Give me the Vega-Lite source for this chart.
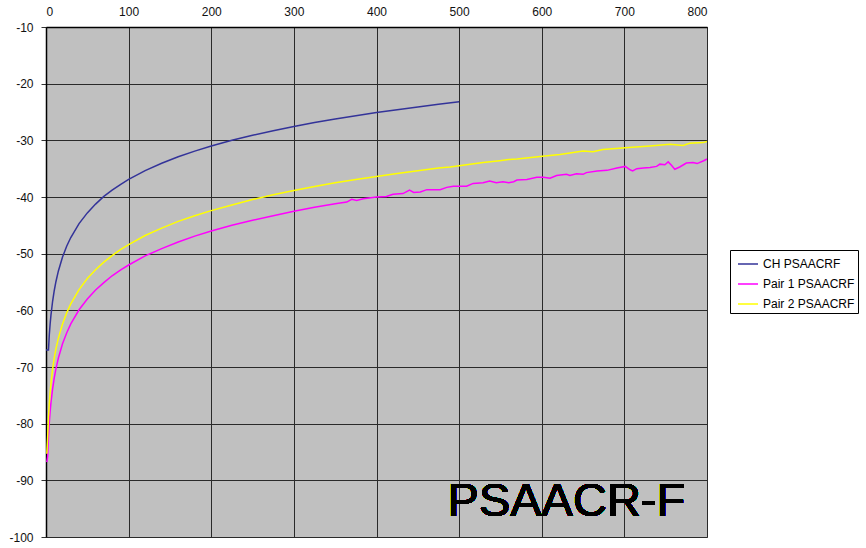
{
  "$schema": "https://vega.github.io/schema/vega-lite/v6.json",
  "autosize": {"type": "none"},
  "width": 661,
  "height": 510,
  "padding": {"left": 46, "top": 27, "right": 159, "bottom": 11},
  "background": "white",
  "config": {
    "view": {"fill": "#c0c0c0", "stroke": "#8a8a8a", "strokeWidth": 1},
    "font": "Liberation Sans",
    "axis": {"labelFont": "Liberation Sans", "labelFontSize": 12, "labelColor": "#111111", "gridColor": "#2a2a2a", "gridWidth": 1, "gridOpacity": 1, "domainColor": "#000000", "domainWidth": 1.5, "tickColor": "#333333", "title": null}
  },
  "data": {"values": [
    {"x": 0, "y": -67, "series": "CH PSAACRF"},
    {"x": 3, "y": -67, "series": "CH PSAACRF"},
    {"x": 4, "y": -64.3, "series": "CH PSAACRF"},
    {"x": 5, "y": -62.4, "series": "CH PSAACRF"},
    {"x": 6, "y": -60.85, "series": "CH PSAACRF"},
    {"x": 8, "y": -58.4, "series": "CH PSAACRF"},
    {"x": 10, "y": -56.5, "series": "CH PSAACRF"},
    {"x": 12, "y": -54.95, "series": "CH PSAACRF"},
    {"x": 15, "y": -53.05, "series": "CH PSAACRF"},
    {"x": 20, "y": -50.6, "series": "CH PSAACRF"},
    {"x": 25, "y": -48.7, "series": "CH PSAACRF"},
    {"x": 30, "y": -47.15, "series": "CH PSAACRF"},
    {"x": 40, "y": -44.7, "series": "CH PSAACRF"},
    {"x": 50, "y": -42.8, "series": "CH PSAACRF"},
    {"x": 60, "y": -41.25, "series": "CH PSAACRF"},
    {"x": 70, "y": -39.9, "series": "CH PSAACRF"},
    {"x": 80, "y": -38.8, "series": "CH PSAACRF"},
    {"x": 90, "y": -37.8, "series": "CH PSAACRF"},
    {"x": 100, "y": -36.9, "series": "CH PSAACRF"},
    {"x": 120, "y": -35.35, "series": "CH PSAACRF"},
    {"x": 140, "y": -34.05, "series": "CH PSAACRF"},
    {"x": 160, "y": -32.9, "series": "CH PSAACRF"},
    {"x": 180, "y": -31.9, "series": "CH PSAACRF"},
    {"x": 200, "y": -31.0, "series": "CH PSAACRF"},
    {"x": 225, "y": -30.0, "series": "CH PSAACRF"},
    {"x": 250, "y": -29.1, "series": "CH PSAACRF"},
    {"x": 275, "y": -28.3, "series": "CH PSAACRF"},
    {"x": 300, "y": -27.55, "series": "CH PSAACRF"},
    {"x": 325, "y": -26.85, "series": "CH PSAACRF"},
    {"x": 350, "y": -26.25, "series": "CH PSAACRF"},
    {"x": 375, "y": -25.65, "series": "CH PSAACRF"},
    {"x": 400, "y": -25.1, "series": "CH PSAACRF"},
    {"x": 425, "y": -24.6, "series": "CH PSAACRF"},
    {"x": 450, "y": -24.1, "series": "CH PSAACRF"},
    {"x": 475, "y": -23.65, "series": "CH PSAACRF"},
    {"x": 500, "y": -23.2, "series": "CH PSAACRF"},

    {"x": 1, "y": -86.8, "series": "Pair 1 PSAACRF"},
    {"x": 2, "y": -85.8, "series": "Pair 1 PSAACRF"},
    {"x": 3, "y": -82.3, "series": "Pair 1 PSAACRF"},
    {"x": 4, "y": -79.8, "series": "Pair 1 PSAACRF"},
    {"x": 5, "y": -77.9, "series": "Pair 1 PSAACRF"},
    {"x": 6, "y": -76.3, "series": "Pair 1 PSAACRF"},
    {"x": 8, "y": -73.85, "series": "Pair 1 PSAACRF"},
    {"x": 10, "y": -71.9, "series": "Pair 1 PSAACRF"},
    {"x": 12, "y": -70.35, "series": "Pair 1 PSAACRF"},
    {"x": 15, "y": -68.4, "series": "Pair 1 PSAACRF"},
    {"x": 20, "y": -65.9, "series": "Pair 1 PSAACRF"},
    {"x": 25, "y": -64.0, "series": "Pair 1 PSAACRF"},
    {"x": 30, "y": -62.4, "series": "Pair 1 PSAACRF"},
    {"x": 40, "y": -59.9, "series": "Pair 1 PSAACRF"},
    {"x": 50, "y": -58.0, "series": "Pair 1 PSAACRF"},
    {"x": 60, "y": -56.4, "series": "Pair 1 PSAACRF"},
    {"x": 70, "y": -55.1, "series": "Pair 1 PSAACRF"},
    {"x": 80, "y": -53.9, "series": "Pair 1 PSAACRF"},
    {"x": 90, "y": -52.9, "series": "Pair 1 PSAACRF"},
    {"x": 100, "y": -52.0, "series": "Pair 1 PSAACRF"},
    {"x": 120, "y": -50.4, "series": "Pair 1 PSAACRF"},
    {"x": 140, "y": -49.1, "series": "Pair 1 PSAACRF"},
    {"x": 160, "y": -47.95, "series": "Pair 1 PSAACRF"},
    {"x": 180, "y": -46.9, "series": "Pair 1 PSAACRF"},
    {"x": 200, "y": -46.0, "series": "Pair 1 PSAACRF"},
    {"x": 225, "y": -45.0, "series": "Pair 1 PSAACRF"},
    {"x": 250, "y": -44.1, "series": "Pair 1 PSAACRF"},
    {"x": 275, "y": -43.3, "series": "Pair 1 PSAACRF"},
    {"x": 300, "y": -42.5, "series": "Pair 1 PSAACRF"},
    {"x": 325, "y": -41.8, "series": "Pair 1 PSAACRF"},
    {"x": 350, "y": -41.2, "series": "Pair 1 PSAACRF"},
    {"x": 364, "y": -40.9, "series": "Pair 1 PSAACRF"},
    {"x": 370, "y": -40.4, "series": "Pair 1 PSAACRF"},
    {"x": 376, "y": -40.6, "series": "Pair 1 PSAACRF"},
    {"x": 384, "y": -40.3, "series": "Pair 1 PSAACRF"},
    {"x": 400, "y": -40.0, "series": "Pair 1 PSAACRF"},
    {"x": 412, "y": -39.9, "series": "Pair 1 PSAACRF"},
    {"x": 420, "y": -39.5, "series": "Pair 1 PSAACRF"},
    {"x": 432, "y": -39.4, "series": "Pair 1 PSAACRF"},
    {"x": 440, "y": -38.8, "series": "Pair 1 PSAACRF"},
    {"x": 445, "y": -39.2, "series": "Pair 1 PSAACRF"},
    {"x": 453, "y": -39.1, "series": "Pair 1 PSAACRF"},
    {"x": 461, "y": -38.7, "series": "Pair 1 PSAACRF"},
    {"x": 477, "y": -38.7, "series": "Pair 1 PSAACRF"},
    {"x": 485, "y": -38.3, "series": "Pair 1 PSAACRF"},
    {"x": 493, "y": -38.1, "series": "Pair 1 PSAACRF"},
    {"x": 509, "y": -38.1, "series": "Pair 1 PSAACRF"},
    {"x": 517, "y": -37.6, "series": "Pair 1 PSAACRF"},
    {"x": 529, "y": -37.5, "series": "Pair 1 PSAACRF"},
    {"x": 537, "y": -37.2, "series": "Pair 1 PSAACRF"},
    {"x": 545, "y": -37.5, "series": "Pair 1 PSAACRF"},
    {"x": 553, "y": -37.3, "series": "Pair 1 PSAACRF"},
    {"x": 560, "y": -37.5, "series": "Pair 1 PSAACRF"},
    {"x": 566, "y": -37.3, "series": "Pair 1 PSAACRF"},
    {"x": 570, "y": -37.0, "series": "Pair 1 PSAACRF"},
    {"x": 582, "y": -36.9, "series": "Pair 1 PSAACRF"},
    {"x": 594, "y": -36.5, "series": "Pair 1 PSAACRF"},
    {"x": 602, "y": -36.5, "series": "Pair 1 PSAACRF"},
    {"x": 610, "y": -36.7, "series": "Pair 1 PSAACRF"},
    {"x": 618, "y": -36.2, "series": "Pair 1 PSAACRF"},
    {"x": 630, "y": -36.0, "series": "Pair 1 PSAACRF"},
    {"x": 634, "y": -36.2, "series": "Pair 1 PSAACRF"},
    {"x": 642, "y": -35.9, "series": "Pair 1 PSAACRF"},
    {"x": 650, "y": -36.0, "series": "Pair 1 PSAACRF"},
    {"x": 654, "y": -35.7, "series": "Pair 1 PSAACRF"},
    {"x": 667, "y": -35.4, "series": "Pair 1 PSAACRF"},
    {"x": 679, "y": -35.3, "series": "Pair 1 PSAACRF"},
    {"x": 691, "y": -34.9, "series": "Pair 1 PSAACRF"},
    {"x": 701, "y": -34.6, "series": "Pair 1 PSAACRF"},
    {"x": 707, "y": -35.2, "series": "Pair 1 PSAACRF"},
    {"x": 710, "y": -35.4, "series": "Pair 1 PSAACRF"},
    {"x": 715, "y": -35.0, "series": "Pair 1 PSAACRF"},
    {"x": 723, "y": -34.9, "series": "Pair 1 PSAACRF"},
    {"x": 731, "y": -34.8, "series": "Pair 1 PSAACRF"},
    {"x": 739, "y": -34.6, "series": "Pair 1 PSAACRF"},
    {"x": 743, "y": -34.2, "series": "Pair 1 PSAACRF"},
    {"x": 749, "y": -34.3, "series": "Pair 1 PSAACRF"},
    {"x": 753, "y": -33.8, "series": "Pair 1 PSAACRF"},
    {"x": 757, "y": -34.4, "series": "Pair 1 PSAACRF"},
    {"x": 761, "y": -35.1, "series": "Pair 1 PSAACRF"},
    {"x": 767, "y": -34.7, "series": "Pair 1 PSAACRF"},
    {"x": 775, "y": -34.0, "series": "Pair 1 PSAACRF"},
    {"x": 783, "y": -33.9, "series": "Pair 1 PSAACRF"},
    {"x": 788, "y": -34.1, "series": "Pair 1 PSAACRF"},
    {"x": 796, "y": -33.6, "series": "Pair 1 PSAACRF"},
    {"x": 800, "y": -33.3, "series": "Pair 1 PSAACRF"},

    {"x": 1, "y": -85.3, "series": "Pair 2 PSAACRF"},
    {"x": 2, "y": -82.4, "series": "Pair 2 PSAACRF"},
    {"x": 3, "y": -78.85, "series": "Pair 2 PSAACRF"},
    {"x": 4, "y": -76.35, "series": "Pair 2 PSAACRF"},
    {"x": 5, "y": -74.4, "series": "Pair 2 PSAACRF"},
    {"x": 6, "y": -72.85, "series": "Pair 2 PSAACRF"},
    {"x": 8, "y": -70.35, "series": "Pair 2 PSAACRF"},
    {"x": 10, "y": -68.4, "series": "Pair 2 PSAACRF"},
    {"x": 12, "y": -66.8, "series": "Pair 2 PSAACRF"},
    {"x": 15, "y": -64.9, "series": "Pair 2 PSAACRF"},
    {"x": 20, "y": -62.4, "series": "Pair 2 PSAACRF"},
    {"x": 25, "y": -60.45, "series": "Pair 2 PSAACRF"},
    {"x": 30, "y": -58.85, "series": "Pair 2 PSAACRF"},
    {"x": 40, "y": -56.35, "series": "Pair 2 PSAACRF"},
    {"x": 50, "y": -54.4, "series": "Pair 2 PSAACRF"},
    {"x": 60, "y": -52.85, "series": "Pair 2 PSAACRF"},
    {"x": 70, "y": -51.5, "series": "Pair 2 PSAACRF"},
    {"x": 80, "y": -50.35, "series": "Pair 2 PSAACRF"},
    {"x": 90, "y": -49.3, "series": "Pair 2 PSAACRF"},
    {"x": 100, "y": -48.4, "series": "Pair 2 PSAACRF"},
    {"x": 120, "y": -46.8, "series": "Pair 2 PSAACRF"},
    {"x": 140, "y": -45.5, "series": "Pair 2 PSAACRF"},
    {"x": 160, "y": -44.3, "series": "Pair 2 PSAACRF"},
    {"x": 180, "y": -43.3, "series": "Pair 2 PSAACRF"},
    {"x": 200, "y": -42.4, "series": "Pair 2 PSAACRF"},
    {"x": 225, "y": -41.4, "series": "Pair 2 PSAACRF"},
    {"x": 250, "y": -40.45, "series": "Pair 2 PSAACRF"},
    {"x": 275, "y": -39.6, "series": "Pair 2 PSAACRF"},
    {"x": 300, "y": -38.85, "series": "Pair 2 PSAACRF"},
    {"x": 325, "y": -38.15, "series": "Pair 2 PSAACRF"},
    {"x": 350, "y": -37.5, "series": "Pair 2 PSAACRF"},
    {"x": 375, "y": -36.9, "series": "Pair 2 PSAACRF"},
    {"x": 400, "y": -36.4, "series": "Pair 2 PSAACRF"},
    {"x": 425, "y": -35.85, "series": "Pair 2 PSAACRF"},
    {"x": 450, "y": -35.35, "series": "Pair 2 PSAACRF"},
    {"x": 475, "y": -34.9, "series": "Pair 2 PSAACRF"},
    {"x": 489, "y": -34.7, "series": "Pair 2 PSAACRF"},
    {"x": 509, "y": -34.3, "series": "Pair 2 PSAACRF"},
    {"x": 529, "y": -33.9, "series": "Pair 2 PSAACRF"},
    {"x": 549, "y": -33.6, "series": "Pair 2 PSAACRF"},
    {"x": 560, "y": -33.4, "series": "Pair 2 PSAACRF"},
    {"x": 570, "y": -33.3, "series": "Pair 2 PSAACRF"},
    {"x": 601, "y": -32.8, "series": "Pair 2 PSAACRF"},
    {"x": 622, "y": -32.5, "series": "Pair 2 PSAACRF"},
    {"x": 650, "y": -31.9, "series": "Pair 2 PSAACRF"},
    {"x": 662, "y": -32.0, "series": "Pair 2 PSAACRF"},
    {"x": 674, "y": -31.6, "series": "Pair 2 PSAACRF"},
    {"x": 701, "y": -31.3, "series": "Pair 2 PSAACRF"},
    {"x": 731, "y": -31.0, "series": "Pair 2 PSAACRF"},
    {"x": 755, "y": -30.7, "series": "Pair 2 PSAACRF"},
    {"x": 771, "y": -30.9, "series": "Pair 2 PSAACRF"},
    {"x": 779, "y": -30.5, "series": "Pair 2 PSAACRF"},
    {"x": 795, "y": -30.4, "series": "Pair 2 PSAACRF"},
    {"x": 800, "y": -30.2, "series": "Pair 2 PSAACRF"}
  ]},
  "layer": [
    {
      "mark": {"type": "line", "strokeWidth": 1.5, "clip": true},
      "encoding": {
        "x": {"field": "x", "type": "quantitative",
          "scale": {"domain": [0, 800], "nice": false},
          "axis": {"orient": "top", "values": [0, 100, 200, 300, 400, 500, 600, 700, 800], "tickSize": 0, "labelPadding": 9, "grid": true, "domain": true}},
        "y": {"field": "y", "type": "quantitative",
          "scale": {"domain": [-100, -10], "nice": false},
          "axis": {"orient": "left", "values": [-100, -90, -80, -70, -60, -50, -40, -30, -20, -10], "labelExpr": "replace(datum.label, '\u2212', '-')", "tickSize": 5, "labelPadding": 8, "grid": true}},
        "color": {"field": "series", "type": "nominal",
          "scale": {"domain": ["CH PSAACRF", "Pair 1 PSAACRF", "Pair 2 PSAACRF"], "range": ["#333399", "#ff00ff", "#ffff00"]},
          "legend": {"title": null, "orient": "none", "legendX": 684, "legendY": 223,
            "symbolType": "stroke", "symbolSize": 400, "symbolStrokeWidth": 1.5, "symbolOffset": 4,
            "rowPadding": 3, "padding": 3, "strokeColor": "#000000", "fillColor": "#ffffff",
            "labelFont": "Liberation Sans", "labelFontSize": 12, "labelColor": "#000000", "labelOffset": 4}},
        "order": {"field": "x", "type": "quantitative"}
      }
    },
    {
      "mark": {"type": "text", "text": "PSAACR-F", "font": "Liberation Sans", "fontSize": 47, "align": "left", "baseline": "alphabetic", "color": "#000000"},
      "encoding": {
        "x": {"datum": 486},
        "y": {"datum": -96.3}
      }
    }
  ]
}
